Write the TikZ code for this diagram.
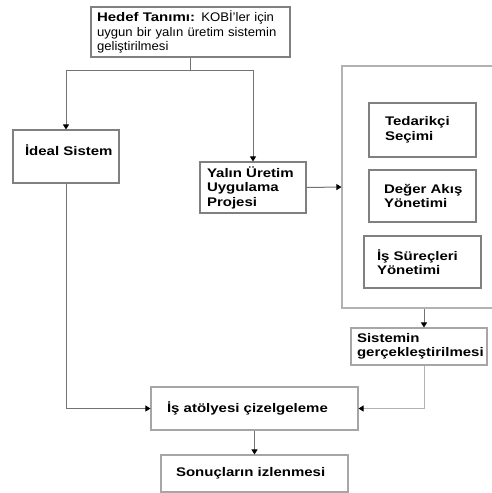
\documentclass[tikz,border=0pt]{standalone}
\usepackage{fontspec}
\setmainfont{Liberation Sans}[FakeStretch=1.05,BoldFeatures={FakeStretch=1.2}]
\usetikzlibrary{arrows.meta}
\begin{document}
\begin{tikzpicture}[x=1pt,y=-1pt,
  box/.style={draw=black!50,line width=1.1pt,rectangle,align=left,
    font=\fontsize{12.5pt}{14.5pt}\selectfont\bfseries,inner ysep=0pt},
  link/.style={draw=black!55,line width=1pt},
  arr/.style={link,-{Triangle[width=6pt,length=5pt,black]}}]
\useasboundingbox (0,0) rectangle (492,493);

% goal
\node[box,text width=187pt,inner xsep=6pt,minimum height=50pt] (hedef) at (190.5,32)
  {\mbox{Hedef Tanımı: \mdseries KOBİ'ler için}\\ \mbox{\mdseries uygun bir yalın üretim sistemin}\\ \mbox{\mdseries geliştirilmesi}};

% two branches
\node[box,text width=82pt,inner xsep=12pt,minimum height=53pt] (ideal) at (66,156.5)
  {\raisebox{12pt}{İdeal Sistem}};
\node[box,text width=92pt,inner xsep=7pt,minimum height=51pt] (yalin) at (253,187.5)
  {\mbox{Yalın Üretim}\\ \mbox{Uygulama}\\ \mbox{Projesi}};

% project container, open on the right
\node[draw=black!30,line width=1.1pt,minimum width=152pt,minimum height=242pt,inner sep=0pt] (cont) at (418,187) {};
\node[box,text width=75pt,inner xsep=16pt,minimum height=54pt] (ted) at (422.5,130)
  {\mbox{Tedarikçi}\\ \mbox{Seçimi}};
\node[box,text width=77pt,inner xsep=15pt,minimum height=52pt] (deg) at (422.5,196)
  {\mbox{Değer Akış}\\ \mbox{Yönetimi}};
\node[box,text width=91pt,inner xsep=13pt,minimum height=52pt] (surec) at (422.5,262)
  {\mbox{İş Süreçleri}\\ \mbox{Yönetimi}};

% realisation and scheduling
\node[box,draw=black!35,text width=124pt,inner xsep=6pt,minimum height=37pt] (sis) at (419,346.5)
  {\mbox{Sistemin}\\ \mbox{gerçekleştirilmesi}};
\node[box,draw=black!35,text width=175pt,inner xsep=16pt,minimum height=43pt] (atol) at (254.5,408.5)
  {\mbox{İş atölyesi çizelgeleme}};
\node[box,draw=black!35,text width=157pt,inner xsep=15pt,minimum height=37pt] (son) at (254.5,473.5)
  {\mbox{Sonuçların izlenmesi}};

% connectors
\coordinate (c1) at (424,0);
\draw[link] (hedef.south) -- ++(0,13) coordinate (split);
\draw[arr] (split) -| (ideal.north);
\draw[arr] (split) -| (yalin.north);
\draw[arr] (yalin.east) -- (cont.west);
\draw[arr] (cont.south -| c1) -- (sis.north -| c1);
\draw[arr,draw=black!30] (sis.south -| c1) |- (atol.east);
\draw[arr] (ideal.south) |- (atol.west);
\draw[arr] (atol.south) -- (son.north);
\end{tikzpicture}
\end{document}
